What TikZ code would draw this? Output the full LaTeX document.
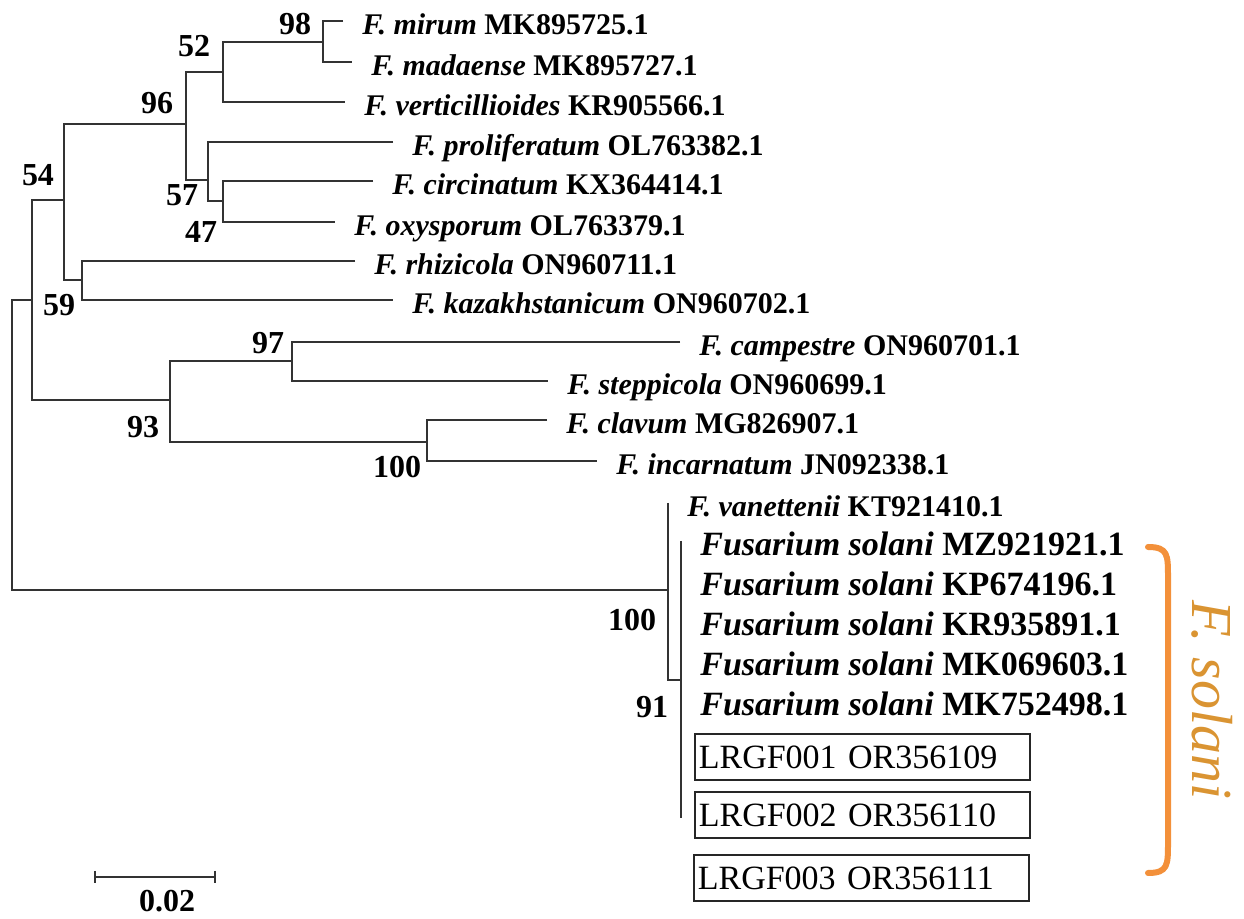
\documentclass[tikz,border=0pt]{standalone}
\usepackage{fontspec}
\setmainfont{Liberation Serif}
\usepackage{xcolor}
\usetikzlibrary{positioning}

\definecolor{bracketorange}{RGB}{243,144,58}
\definecolor{cladegold}{RGB}{218,148,50}

\begin{document}
\begin{tikzpicture}[
        x=0.5pt, y=-0.5pt,
        branch/.style={draw=black!80, line width=0.85pt},
        taxon/.style={anchor=base west, inner sep=0pt, xshift=9.5pt, yshift=-7pt, font=\fontsize{15}{18}\selectfont\bfseries},
        solanitaxon/.style={taxon, yshift=-0.5pt, font=\fontsize{17}{20}\selectfont\bfseries},
        boot/.style={inner sep=0pt, font=\fontsize{16}{19}\selectfont\bfseries},
        isolate/.style={draw=black!85, line width=0.8pt, anchor=west, text width=163.5pt, inner xsep=2pt, minimum height=23pt, align=left, font=\fontsize{17}{20}\selectfont},
        clade/.style={rotate=-90, inner sep=0pt, text=cladegold, font=\fontsize{29}{32}\selectfont\itshape}
    ]
    \path[fill=white, use as bounding box] (0,0) rectangle (1244,919);

    % Tips
    \coordinate (tmirum) at (343,21);
    \coordinate (tmada) at (352,62);
    \coordinate (tverti) at (345,102);
    \coordinate (tproli) at (393,142);
    \coordinate (tcirc) at (373,181);
    \coordinate (toxy) at (335,222);
    \coordinate (trhiz) at (355,261);
    \coordinate (tkaz) at (393,300);
    \coordinate (tcamp) at (680,342);
    \coordinate (tstep) at (548,381);
    \coordinate (tclav) at (547,420);
    \coordinate (tinc) at (597,461);
    \coordinate (tvan) at (668,503);
    \coordinate (tmz) at (681,541);
    \coordinate (tkp) at (681,581);
    \coordinate (tkr) at (681,621);
    \coordinate (tmk69) at (681,661);
    \coordinate (tmk75) at (681,701);
    \coordinate (tend) at (681,818);

    % Inner nodes
    \coordinate (n98) at (323,42);
    \coordinate (n52) at (223,72);
    \coordinate (n96) at (186,124);
    \coordinate (n57) at (208,180);
    \coordinate (n47) at (223,201);
    \coordinate (n54) at (64,200);
    \coordinate (n59) at (82,280);
    \coordinate (nin) at (32,300);
    \coordinate (n97) at (292,361);
    \coordinate (n93) at (170,400);
    \coordinate (n100a) at (427,442);
    \coordinate (nroot) at (12,445);
    \coordinate (n100b) at (668,590);
    \coordinate (n91) at (681,680);

    % Branches
    \draw[branch] (tmirum) -| (n98) |- (tmada);
    \draw[branch] (n98) -| (n52) |- (tverti);
    \draw[branch] (n52) -| (n96) |- (n57);
    \draw[branch] (tproli) -| (n57) |- (n47);
    \draw[branch] (tcirc) -| (n47) |- (toxy);
    \draw[branch] (n96) -| (n54) |- (n59);
    \draw[branch] (trhiz) -| (n59) |- (tkaz);
    \draw[branch] (n54) -| (nin) |- (n93);
    \draw[branch] (n97) -| (n93) |- (n100a);
    \draw[branch] (tcamp) -| (n97) |- (tstep);
    \draw[branch] (tclav) -| (n100a) |- (tinc);
    \draw[branch] (nin) -| (nroot) |- (n100b);
    \draw[branch] (tvan) -- (n100b) |- (n91);
    \draw[branch] (tmz) -- (n91) -- (tend);

    % Taxon labels
    \node[taxon] (lmirum) at (tmirum) {\itshape F. mirum \upshape MK895725.1};
    \node[taxon] (lmada) at (tmada) {\itshape F. madaense \upshape MK895727.1};
    \node[taxon] (lverti) at (tverti) {\itshape F. verticillioides \upshape KR905566.1};
    \node[taxon] (lproli) at (tproli) {\itshape F. proliferatum \upshape OL763382.1};
    \node[taxon] (lcirc) at (tcirc) {\itshape F. circinatum \upshape KX364414.1};
    \node[taxon] (loxy) at (toxy) {\itshape F. oxysporum \upshape OL763379.1};
    \node[taxon] (lrhiz) at (trhiz) {\itshape F. rhizicola \upshape ON960711.1};
    \node[taxon] (lkaz) at (tkaz) {\itshape F. kazakhstanicum \upshape ON960702.1};
    \node[taxon] (lcamp) at (tcamp) {\itshape F. campestre \upshape ON960701.1};
    \node[taxon] (lstep) at (tstep) {\itshape F. steppicola \upshape ON960699.1};
    \node[taxon] (lclav) at (tclav) {\itshape F. clavum \upshape MG826907.1};
    \node[taxon] (linc) at (tinc) {\itshape F. incarnatum \upshape JN092338.1};
    \node[taxon] (lvan) at (tvan) {\itshape F. vanettenii \upshape KT921410.1};
    \node[solanitaxon] (lmz) at (tmz) {\itshape Fusarium solani \upshape MZ921921.1};
    \node[solanitaxon] (lkp) at (tkp) {\itshape Fusarium solani \upshape KP674196.1};
    \node[solanitaxon] (lkr) at (tkr) {\itshape Fusarium solani \upshape KR935891.1};
    \node[solanitaxon] (lmk69) at (tmk69) {\itshape Fusarium solani \upshape MK069603.1};
    \node[solanitaxon] (lmk75) at (tmk75) {\itshape Fusarium solani \upshape MK752498.1};

    % Isolates of this study
    \node[isolate] (lrgf1) at (694,757) {LRGF001 OR356109};
    \node[isolate] (lrgf2) at (694,815) {LRGF002 OR356110};
    \node[isolate] (lrgf3) at (693,878) {LRGF003 OR356111};

    % Bootstrap values
    \node[boot] (b98) at (295,24) {98};
    \node[boot] (b52) at (194,46) {52};
    \node[boot] (b96) at (157,103) {96};
    \node[boot] (b57) at (182,195) {57};
    \node[boot] (b47) at (201,232) {47};
    \node[boot] (b54) at (38,175) {54};
    \node[boot] (b59) at (59,305) {59};
    \node[boot] (b97) at (268,343) {97};
    \node[boot] (b93) at (143,427) {93};
    \node[boot] (b100a) at (397,467) {100};
    \node[boot] (b100b) at (632,620) {100};
    \node[boot] (b91) at (652,707) {91};

    % F. solani bracket
    \coordinate (bracetop) at (1148,547);
    \coordinate (bracebot) at (1148,873);
    \draw[bracketorange, line width=3pt, line cap=round]
        (bracetop) .. controls (1168,547) and (1168,555) .. (1168,577)
        -- (1168,843) .. controls (1168,865) and (1168,873) .. (bracebot);
    \node[clade] (solani) at (1212,700) {F. solani};

    % Scale bar
    \coordinate (sbleft) at (95,877);
    \coordinate (sbright) at (215,877);
    \draw[branch] (sbleft) -- (sbright);
    \draw[branch] ([yshift=3pt]sbleft) -- ([yshift=-3pt]sbleft);
    \draw[branch] ([yshift=3pt]sbright) -- ([yshift=-3pt]sbright);
    \node[boot] (sblabel) at (167,901) {0.02};

\end{tikzpicture}
\end{document}
